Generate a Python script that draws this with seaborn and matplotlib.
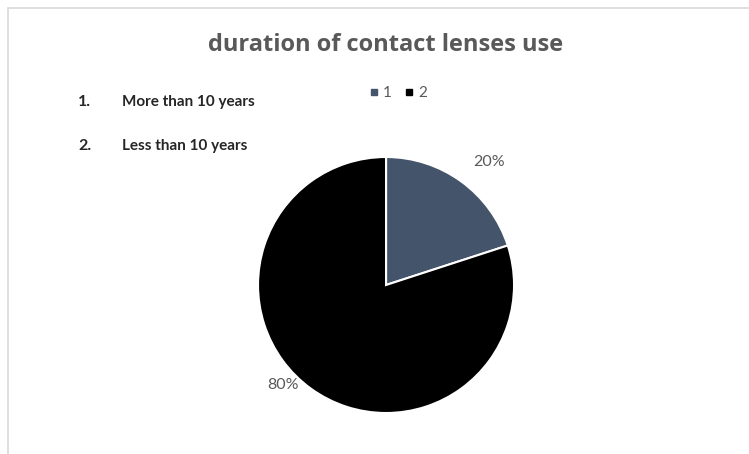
import numpy as np
import seaborn as sns
import matplotlib.pyplot as plt
from matplotlib.patches import Rectangle
from matplotlib.lines import Line2D

# data
groups = ["1", "2"]
shares = [20, 80]
notes = ["More than 10 years", "Less than 10 years"]
colors = ["#44546A", "#000000"]

sns.set_style("white")
plt.rcParams['font.family'] = ['Lato', 'DejaVu Sans']

fig = plt.figure(figsize=(7.49, 4.54), dpi=100)

# chart area border
fig.patches.append(Rectangle((8 / 749, -0.1), 1.0, 1.1 - 8 / 454, transform=fig.transFigure,
                             fill=False, edgecolor="#D9D9D9", linewidth=1.2))

ax = fig.add_axes([0.3445, 0.0903, 0.3418, 0.5639])
wedges, _ = ax.pie(shares, colors=colors, startangle=90, counterclock=False,
                   wedgeprops=dict(edgecolor="white", linewidth=1.5))
ax.set_xlim(-1, 1)
ax.set_ylim(-1, 1)
ax.set_aspect("equal")
ax.axis("off")

# percentage labels outside the slices (distance, angle shift from slice middle)
label_dist = [1.25, 1.12]
label_shift = [-4, -10]
for w, s, d, sh in zip(wedges, shares, label_dist, label_shift):
    mid = np.deg2rad((w.theta1 + w.theta2) / 2 + sh)
    ax.text(d * np.cos(mid), d * np.sin(mid), f"{s}%", ha="center", va="center",
            fontsize=11.5, color="#595959", clip_on=False)

fig.text(386 / 749, 1 - 45 / 454, "duration of contact lenses use", ha="center", va="center",
         fontsize=17, fontweight="bold", color="#595959", family=["Open Sans", "DejaVu Sans"])

for i, n in enumerate(notes):
    y = 1 - (102 + 44 * i) / 454
    fig.text(78 / 749, y, f"{i + 1}.", ha="left", va="center", fontsize=11.5, fontweight="bold")
    fig.text(122 / 749, y, n, ha="left", va="center", fontsize=11, fontweight="bold")

handles = [Line2D([], [], marker="s", linestyle="", markersize=5, color=c) for c in colors]
fig.legend(handles, groups, loc="center", bbox_to_anchor=(398 / 749, 1 - 93 / 454), ncol=2,
           frameon=False, fontsize=11, labelcolor="#595959", handlelength=0.6,
           handletextpad=0.3, columnspacing=0.8)

fig.savefig("out.png", dpi=100)
